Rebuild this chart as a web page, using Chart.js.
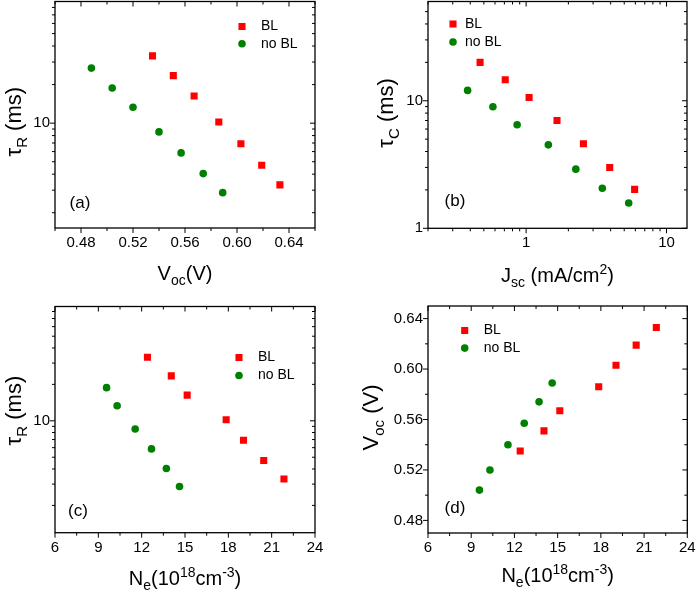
<!DOCTYPE html>
<html>
<head>
<meta charset="utf-8">
<script src="https://cdn.jsdelivr.net/npm/chart.js@4.4.1/dist/chart.umd.min.js"></script>
<style>
  body { margin: 0; background: #fff; width: 697px; height: 596px; position: relative; overflow: hidden; }
  canvas { position: absolute; }
</style>
</head>
<body>
<canvas id="grafica_a" width="348" height="298" style="left:0;top:0"></canvas>
<canvas id="grafica_b" width="349" height="298" style="left:348px;top:0"></canvas>
<canvas id="grafica_c" width="348" height="298" style="left:0;top:298px"></canvas>
<canvas id="grafica_d" width="349" height="298" style="left:348px;top:298px"></canvas>
<script>
// datos
const vocBL = [0.535, 0.551, 0.567, 0.586, 0.603, 0.619, 0.633];
const tauRBL = [33.5, 23.5, 16.3, 10.2, 6.9, 4.7, 3.3];
const neBL = [12.4, 14.05, 15.15, 17.85, 19.05, 20.45, 21.85];
const jscBL = [0.47, 0.71, 1.05, 1.66, 2.56, 3.94, 5.93];
const tauCBL = [20.0, 14.6, 10.6, 7.0, 4.6, 3.0, 2.02];

const vocNoBL = [0.488, 0.504, 0.520, 0.540, 0.557, 0.574, 0.589];
const tauRNoBL = [26.9, 18.8, 13.3, 8.55, 5.86, 4.04, 2.87];
const neNoBL = [9.57, 10.3, 11.55, 12.68, 13.71, 14.62]; // sin N_e para el primer punto
const jscNoBL = [0.383, 0.58, 0.863, 1.44, 2.26, 3.49, 5.38];
const tauCNoBL = [12.05, 8.97, 6.48, 4.51, 2.91, 2.06, 1.58];

// marcas de ejes
const marcasVoc = [0.46, 0.48, 0.50, 0.52, 0.54, 0.56, 0.58, 0.60, 0.62, 0.64, 0.66];
const etiquetasVoc = [0.48, 0.52, 0.56, 0.60, 0.64];
const marcasVocY = [0.48, 0.50, 0.52, 0.54, 0.56, 0.58, 0.60, 0.62, 0.64];
const marcasNe = [6, 7.5, 9, 10.5, 12, 13.5, 15, 16.5, 18, 19.5, 21, 22.5, 24];
const etiquetasNe = [6, 9, 12, 15, 18, 21, 24];
const marcasTauR = [2, 3, 4, 5, 6, 7, 8, 9, 10, 20, 30, 40, 50, 60, 70, 80];
const etiquetasTauR = [10];
const marcasTauC = [1, 2, 3, 4, 5, 6, 7, 8, 9, 10, 20, 30, 40, 50];
const etiquetasTauC = [1, 10];
const marcasJsc = [0.2, 0.3, 0.4, 0.5, 0.6, 0.7, 0.8, 0.9, 1, 2, 3, 4, 5, 6, 7, 8, 9, 10];
const etiquetasJsc = [1, 10];

const FUENTE = '"Liberation Sans", Arial, sans-serif';
const ROJO = '#ff0000';
const VERDE = '#008000';

function puntos(xs, ys) {
  return xs.map((x, i) => ({ x: x, y: ys[i] }));
}

function series(datosBL, datosNoBL) {
  return [
    { label: 'BL', data: datosBL, pointStyle: 'rect', pointRadius: 5, pointHoverRadius: 5,
      backgroundColor: ROJO, borderColor: ROJO, borderWidth: 0 },
    { label: 'no BL', data: datosNoBL, pointStyle: 'circle', pointRadius: 3.8, pointHoverRadius: 3.8,
      backgroundColor: VERDE, borderColor: VERDE, borderWidth: 0 }
  ];
}

function eje(tipo, pos, min, max, marcas, etiquetas, decimales, tam) {
  return {
    type: tipo, position: pos, min: min, max: max,
    grid: { display: false, drawTicks: false },
    border: { display: false },
    afterBuildTicks: (s) => { s.ticks = marcas.map(v => ({ value: v })); },
    afterFit: (s) => {
      if (pos === 'left') s.width = tam; else s.height = tam;
      // sin margen extra por las etiquetas de los extremos
      s.paddingTop = 0; s.paddingBottom = 0; s.paddingLeft = 0; s.paddingRight = 0;
    },
    ticks: {
      autoSkip: false, maxRotation: 0, color: '#000', padding: pos === 'left' ? 5 : 6,
      font: { family: FUENTE, size: 15 },
      callback: (v) => etiquetas.some(l => Math.abs(l - v) < 1e-9) ? Number(v).toFixed(decimales) : ''
    }
  };
}

function textoRico(ctx, partes, x, y, rot, tam) {
  ctx.save();
  ctx.translate(x, y);
  ctx.rotate(rot);
  ctx.textBaseline = 'alphabetic';
  ctx.textAlign = 'left';
  const chico = Math.round(tam * 0.7);
  const fuente = p => (p.sub || p.sup ? chico : tam) + 'px ' + FUENTE;
  let total = 0;
  partes.forEach(p => { ctx.font = fuente(p); total += ctx.measureText(p.t).width; });
  let cx = -total / 2;
  partes.forEach(p => {
    ctx.font = fuente(p);
    const dy = p.sub ? tam * 0.25 : (p.sup ? -tam * 0.4 : 0);
    ctx.fillText(p.t, cx, dy);
    cx += ctx.measureText(p.t).width;
  });
  ctx.restore();
}

const decoracion = {
  id: 'decoracion',
  afterDraw(chart, args, o) {
    const ctx = chart.ctx;
    const { left, right, top, bottom } = chart.chartArea;
    ctx.save();
    ctx.strokeStyle = '#000';
    ctx.fillStyle = '#000';
    ctx.lineWidth = 1.3;
    ctx.strokeRect(left, top, right - left, bottom - top);

    ctx.lineWidth = 1;
    const raya = (x1, y1, x2, y2) => { ctx.beginPath(); ctx.moveTo(x1, y1); ctx.lineTo(x2, y2); ctx.stroke(); };
    const sx = chart.scales.x, sy = chart.scales.y;
    sx.ticks.forEach(t => {
      if (t.value < sx.min - 1e-9 || t.value > sx.max + 1e-9) return;
      const px = sx.getPixelForValue(t.value);
      const l = t.label ? 5 : 3;
      raya(px, bottom, px, bottom + l);
      raya(px, top, px, top + l);
    });
    sy.ticks.forEach(t => {
      if (t.value < sy.min - 1e-9 || t.value > sy.max + 1e-9) return;
      const py = sy.getPixelForValue(t.value);
      const l = t.label ? 5 : 3;
      raya(left - l, py, left, py);
      raya(right - l, py, right, py);
    });

    // leyenda
    ctx.font = '14px ' + FUENTE;
    ctx.textBaseline = 'middle';
    ctx.textAlign = 'left';
    chart.data.datasets.forEach((d, i) => {
      const x = left + o.leyenda.x, y = top + o.leyenda.y + i * o.leyenda.dy;
      ctx.fillStyle = d.backgroundColor;
      Chart.helpers.drawPoint(ctx, { pointStyle: d.pointStyle, radius: d.pointRadius, rotation: 0, borderWidth: 0 }, x, y);
      ctx.fillStyle = '#000';
      ctx.fillText(d.label, x + o.leyenda.gap, y);
    });

    // letra del panel
    ctx.font = '17px ' + FUENTE;
    ctx.textAlign = 'center';
    ctx.fillText(o.letra, left + o.letraPos[0], bottom + o.letraPos[1]);

    // titulos de ejes
    textoRico(ctx, o.tituloX, (left + right) / 2, bottom + o.tituloXDy, 0, 20);
    textoRico(ctx, o.tituloY, left - o.tituloYDx, (top + bottom) / 2 + o.tituloYDy, -Math.PI / 2, 22);
    ctx.restore();
  }
};

function crearPanel(id, datasets, ejeX, ejeY, padding, deco) {
  return new Chart(document.getElementById(id), {
    type: 'scatter',
    data: { datasets: datasets },
    options: {
      responsive: false,
      animation: false,
      layout: { padding: padding, autoPadding: false },
      scales: { x: ejeX, y: ejeY },
      plugins: { legend: { display: false }, tooltip: { enabled: false }, decoracion: deco }
    },
    plugins: [decoracion]
  });
}

const tituloTauR = [{ t: 'τ' }, { t: 'R', sub: true }, { t: ' (ms)' }];
const tituloNe = [{ t: 'N' }, { t: 'e', sub: true }, { t: '(10' }, { t: '18', sup: true }, { t: 'cm' }, { t: '-3', sup: true }, { t: ')' }];

crearPanel('grafica_a',
  series(puntos(vocBL, tauRBL), puntos(vocNoBL, tauRNoBL)),
  eje('linear', 'bottom', 0.46, 0.66, marcasVoc, etiquetasVoc, 2, 70),
  eje('logarithmic', 'left', 1.52, 89, marcasTauR, etiquetasTauR, 0, 55),
  { top: 1.5, right: 33, left: 0, bottom: 0 },
  { letra: '(a)', letraPos: [25, -25], leyenda: { x: 187, y: 25, dy: 17.3, gap: 19 },
    tituloX: [{ t: 'V' }, { t: 'oc', sub: true }, { t: '(V)' }], tituloXDy: 52,
    tituloY: tituloTauR, tituloYDx: 34, tituloYDy: 7 });

crearPanel('grafica_b',
  series(puntos(jscBL, tauCBL), puntos(jscNoBL, tauCNoBL)),
  eje('logarithmic', 'bottom', 0.2, 14, marcasJsc, etiquetasJsc, 0, 69.7),
  eje('logarithmic', 'left', 1, 60, marcasTauC, etiquetasTauC, 0, 80),
  { top: 1.5, right: 10, left: 0, bottom: 0 },
  { letra: '(b)', letraPos: [27, -27], leyenda: { x: 25, y: 22.5, dy: 18, gap: 12 },
    tituloX: [{ t: 'J' }, { t: 'sc', sub: true }, { t: ' (mA/cm' }, { t: '2', sup: true }, { t: ')' }], tituloXDy: 54,
    tituloY: [{ t: 'τ' }, { t: 'C', sub: true }, { t: ' (ms)' }], tituloYDx: 35, tituloYDy: -2 });

crearPanel('grafica_c',
  series(puntos(neBL, tauRBL), puntos(neNoBL, tauRNoBL.slice(1))),
  eje('linear', 'bottom', 6, 24, marcasNe, etiquetasNe, 0, 63.3),
  eje('logarithmic', 'left', 1.19, 88, marcasTauR, etiquetasTauR, 0, 55),
  { top: 8.5, right: 33, left: 0, bottom: 0 },
  { letra: '(c)', letraPos: [23, -21], leyenda: { x: 184, y: 51, dy: 18, gap: 19 },
    tituloX: tituloNe, tituloXDy: 52,
    tituloY: tituloTauR, tituloYDx: 34, tituloYDy: -9 });

crearPanel('grafica_d',
  series(puntos(neBL, vocBL), puntos(neNoBL, vocNoBL.slice(1))),
  eje('linear', 'bottom', 6, 24, marcasNe, etiquetasNe, 0, 63),
  eje('linear', 'left', 0.47, 0.65, marcasVocY, etiquetasVoc, 2, 80),
  { top: 8, right: 9.7, left: 0, bottom: 0 },
  { letra: '(d)', letraPos: [27, -25], leyenda: { x: 36.7, y: 24.5, dy: 17.6, gap: 19 },
    tituloX: tituloNe, tituloXDy: 49,
    tituloY: [{ t: 'V' }, { t: 'oc', sub: true }, { t: ' (V)' }], tituloYDx: 50, tituloYDy: -2 });
</script>
</body>
</html>
